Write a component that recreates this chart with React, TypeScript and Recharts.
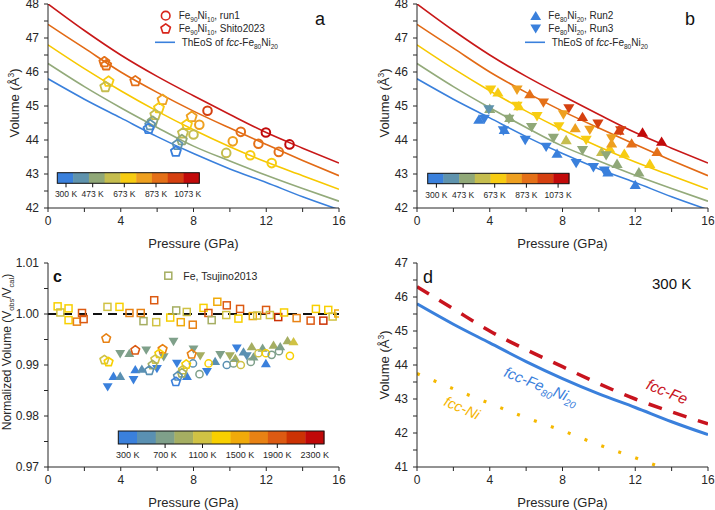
import React from 'react';
import { ComposedChart, Line, Scatter, XAxis, YAxis, ReferenceLine } from 'recharts';

const FONT = '"Liberation Sans", Arial, Helvetica, sans-serif';
const INK = '#262626';

// colour scales of the two colour bars
const palAB = ['#3a80dc', '#5f93ad', '#90a878', '#c5bd4e', '#f7cc12', '#eea020', '#e47018', '#d54010', '#c20a0a'];
const palC = ['#3a80dc', '#5a90b2', '#7fa08a', '#a5ae62', '#d0c244', '#f8d000', '#f0aa0a', '#e88214', '#dc5a12', '#cc3204', '#c00808'];
const abBarLabels = ['300 K', '473 K', '673 K', '873 K', '1073 K'];
const cBarLabels = ['300 K', '700 K', '1100 K', '1500 K', '1900 K', '2300 K'];

const pressureTicks = [0, 2, 4, 6, 8, 10, 12, 14, 16];
const volTicksAB = [42, 42.5, 43, 43.5, 44, 44.5, 45, 45.5, 46, 46.5, 47, 47.5, 48];
const volTicksD = [41, 41.5, 42, 42.5, 43, 43.5, 44, 44.5, 45, 45.5, 46, 46.5, 47];
const normTicks = [0.97, 0.975, 0.98, 0.985, 0.99, 0.995, 1.0, 1.005, 1.01];

// isotherms of fcc-Fe80Ni20 (panels a, b)
const eosP = [0, 2, 4, 6, 8, 10, 12, 14, 16];
const v300 = [45.8, 45.2, 44.65, 44.1, 43.6, 43.15, 42.75, 42.33, 41.95];
const v473 = [46.25, 45.57, 44.95, 44.37, 43.82, 43.38, 42.96, 42.57, 42.2];
const v673 = [46.8, 46.1, 45.45, 44.85, 44.3, 43.8, 43.35, 42.95, 42.55];
const v873 = [47.4, 46.7, 46.0, 45.4, 44.85, 44.35, 43.87, 43.4, 42.95];
const v1073 = [48.0, 47.22, 46.5, 45.87, 45.3, 44.75, 44.22, 43.76, 43.32];
const isoColors = ['#3a80dc', '#93aa7a', '#f7c800', '#e26a15', '#c81818'];

// panel d, 300 K
const vFe = [46.3, 45.65, 45.0, 44.45, 43.95, 43.45, 43.0, 42.62, 42.27];
const niP = [0, 2, 4, 6, 8, 10, 12, 13.4];
const vNi = [43.75, 43.3, 42.87, 42.45, 42.07, 41.65, 41.27, 41.0];

// [pressure, volume, colour index]
const run1A = [
  [8.77, 44.86, 7], [10.6, 44.24, 6], [11.98, 44.22, 8], [13.28, 43.87, 8], [11.57, 43.89, 6], [12.69, 43.65, 6],
  [8.32, 44.45, 5], [10.16, 43.96, 5], [11.12, 43.55, 4], [12.3, 43.32, 4], [9.8, 43.62, 3], [8.0, 44.16, 3],
];
const shitoA = [
  [3.1, 46.29, 6], [3.2, 46.2, 6], [4.8, 45.73, 6], [3.33, 45.72, 4], [3.15, 45.56, 3], [6.3, 45.18, 5],
  [6.1, 44.94, 4], [5.9, 44.74, 3], [5.75, 44.54, 2], [5.62, 44.44, 1], [5.53, 44.33, 0], [7.9, 44.68, 5],
  [7.64, 44.45, 4], [7.42, 44.2, 3], [7.36, 44.0, 2], [7.12, 43.86, 1], [7.03, 43.66, 0],
];
const run2B = [
  [3.4, 44.6, 0], [4.8, 44.3, 0], [7.7, 43.6, 0], [10.5, 43.05, 0], [12.0, 42.68, 0],
  [4.0, 44.92, 2], [5.1, 44.65, 2], [11.0, 43.3, 2], [12.2, 43.05, 2], [8.2, 44.0, 3], [10.15, 43.65, 3],
  [4.45, 45.4, 4], [5.6, 45.0, 4], [10.6, 43.75, 4], [11.4, 43.6, 4], [12.8, 43.3, 4],
  [8.7, 44.35, 5], [10.7, 43.9, 5], [6.2, 45.35, 6], [11.8, 43.9, 6], [13.2, 43.65, 6],
  [9.1, 44.68, 7], [11.1, 44.28, 7], [12.4, 44.22, 8], [13.45, 43.95, 8],
];
const run3B = [
  [3.7, 44.62, 0], [4.75, 44.28, 0], [5.95, 44.0, 0], [7.1, 43.8, 0], [8.75, 43.32, 0], [9.7, 43.2, 0], [10.3, 43.1, 0],
  [3.95, 44.9, 1], [5.05, 44.62, 2], [6.3, 44.38, 2], [7.5, 44.06, 2], [9.1, 43.7, 2], [10.4, 43.55, 2],
  [4.05, 45.48, 4], [5.5, 45.0, 4], [6.6, 44.7, 4], [7.8, 44.4, 4], [9.3, 44.0, 4],
  [5.5, 45.48, 5], [8.05, 44.75, 5], [9.5, 44.3, 5], [10.7, 44.05, 5],
  [6.95, 45.1, 6], [8.35, 44.93, 7], [9.95, 44.48, 7], [11.2, 44.28, 7],
];

// panel c, V_obs / V_cal
const tsujinoC = [
  [0.53, 1.0015, 5], [0.68, 1.0003, 4], [1.13, 1.0011, 5], [1.13, 0.9988, 5], [1.59, 0.9985, 7], [1.87, 1.0002, 8],
  [1.96, 0.999, 8], [3.27, 1.0014, 4], [3.93, 1.0014, 5], [4.48, 1.0002, 7], [5.1, 1.0002, 7], [5.25, 0.9986, 3],
  [5.84, 1.0027, 8], [5.95, 0.9984, 4], [6.72, 0.9993, 5], [7.05, 1.0007, 3], [7.3, 0.9984, 6], [7.63, 1.0004, 4],
  [7.96, 0.9979, 7], [8.55, 1.0012, 5], [8.82, 1.0002, 8], [9.0, 0.9988, 3], [9.31, 1.0024, 6], [9.83, 1.0017, 8],
  [9.8, 0.9998, 4], [10.47, 0.9991, 5], [10.56, 1.001, 8], [11.26, 0.9996, 6], [11.5, 0.9997, 4], [11.99, 1.0008, 8],
  [12.2, 0.9998, 4], [12.66, 0.9994, 9], [12.98, 1.0003, 5], [13.67, 0.9992, 7], [14.44, 0.9987, 8], [14.73, 1.001, 5],
  [15.14, 0.9987, 9], [15.41, 1.0008, 5], [15.65, 0.9995, 4], [15.96, 1.0001, 6],
];
const shitoC = [
  [3.2, 0.9952, 7], [3.1, 0.991, 4], [3.33, 0.9906, 5], [4.8, 0.9929, 8], [6.3, 0.9931, 7], [6.12, 0.9922, 5],
  [5.9, 0.9911, 4], [5.75, 0.99, 3], [5.57, 0.9889, 1], [7.9, 0.9921, 7], [7.6, 0.9901, 5], [7.42, 0.989, 4],
  [7.36, 0.9884, 3], [7.14, 0.9878, 1], [7.03, 0.9867, 0],
];
const run1C = [
  [7.97, 0.9903, 1], [8.33, 0.9882, 2], [8.83, 0.9903, 5], [9.83, 0.99, 1], [10.2, 0.9903, 2], [10.6, 0.99, 4],
  [11.15, 0.9906, 2], [11.57, 0.9923, 4], [11.98, 0.9923, 5], [12.3, 0.992, 2], [12.7, 0.9927, 2], [13.3, 0.9918, 5],
];
const run2C = [
  [3.6, 0.9878, 0], [3.97, 0.9878, 1], [4.8, 0.9891, 0], [5.16, 0.9892, 1], [4.47, 0.9923, 2], [7.64, 0.9878, 0],
  [9.19, 0.9907, 1], [10.3, 0.9913, 3], [11.3, 0.9916, 2], [11.98, 0.9903, 0], [11.2, 0.9936, 3], [11.8, 0.9933, 2],
  [12.4, 0.9939, 3], [12.77, 0.9936, 2], [13.17, 0.9948, 3], [13.5, 0.9946, 4], [10.75, 0.9926, 1],
];
const run3C = [
  [3.28, 0.9857, 0], [3.97, 0.9922, 2], [4.7, 0.9871, 0], [5.4, 0.9929, 2], [6.9, 0.9946, 2], [7.09, 0.9903, 0],
  [5.99, 0.9893, 0], [6.36, 0.9916, 2], [8.0, 0.9931, 2], [8.37, 0.9918, 3], [8.74, 0.9887, 0], [9.47, 0.992, 2],
  [10.0, 0.9918, 3], [10.38, 0.9933, 0], [10.93, 0.9918, 1],
];

const toRows = (vs: number[], ps: number[] = eosP) => ps.map((p, i) => ({ p, v: vs[i] }));
const toPts = (arr: number[][], pal: string[]) => arr.map(([p, v, t]) => ({ p, v, c: pal[t] }));

const fmtP = (v: number) => (v % 4 === 0 ? String(v) : '');
const fmtInt = (v: number) => (Number.isInteger(v) ? String(v) : '');
const fmtNorm = (v: number) => (Math.round(v * 1000) % 10 === 0 ? v.toFixed(2) : '');

function drawMark(kind: string, cx: number, cy: number, s: number, color: string, sw: number) {
  if (cx == null || cy == null) return <g />;
  if (kind === 'circle') return <circle cx={cx} cy={cy} r={s} fill="none" stroke={color} strokeWidth={sw} />;
  if (kind === 'pent') {
    const pts = [0, 1, 2, 3, 4]
      .map((k) => {
        const a = ((-90 + 72 * k) * Math.PI) / 180;
        return `${cx + s * Math.cos(a)},${cy + s * Math.sin(a)}`;
      })
      .join(' ');
    return <polygon points={pts} fill="none" stroke={color} strokeWidth={sw} strokeLinejoin="round" />;
  }
  if (kind === 'up')
    return <polygon points={`${cx},${cy - s} ${cx - s * 1.08},${cy + s * 0.8} ${cx + s * 1.08},${cy + s * 0.8}`} fill={color} />;
  if (kind === 'down')
    return <polygon points={`${cx},${cy + s} ${cx - s * 1.08},${cy - s * 0.8} ${cx + s * 1.08},${cy - s * 0.8}`} fill={color} />;
  return <rect x={cx - s} y={cy - s} width={2 * s} height={2 * s} fill="none" stroke={color} strokeWidth={sw} />;
}

const mk = (kind: string, s: number, sw: number) => (props: any) =>
  drawMark(kind, props.cx, props.cy, s, props.payload?.c ?? INK, sw);

// text with _{sub}, ^{sup} and *{italic} runs
function rich(s: string, small: number, subShift: number, supShift: number) {
  const out: any[] = [];
  const re = /([_^*])\{([^}]*)\}|([^_^*]+)/g;
  let cur = 0;
  let k = 0;
  let m: RegExpExecArray | null;
  while ((m = re.exec(s))) {
    if (m[1] === '_' || m[1] === '^') {
      const d = m[1] === '_' ? subShift : -supShift;
      out.push(<tspan key={k++} fontSize={small} dy={d - cur}>{m[2]}</tspan>);
      cur = d;
    } else if (m[1] === '*') {
      out.push(<tspan key={k++} fontStyle="italic" dy={-cur}>{m[2]}</tspan>);
      cur = 0;
    } else {
      out.push(<tspan key={k++} dy={-cur}>{m[3]}</tspan>);
      cur = 0;
    }
  }
  return out;
}

const tickStyle = { fontSize: 12, fill: INK, fontFamily: FONT };
const ax = { stroke: INK, strokeWidth: 1 };

// pad = extra room above the plot so the top tick label is not clipped
function Panel({ x, y, pad = 0, yDomain, yTicks, yFmt, children }: any) {
  return (
    <div style={{ position: 'absolute', left: x, top: y - pad }}>
      <ComposedChart width={346} height={251 + pad} margin={{ top: 4 + pad, right: 7, left: 0, bottom: 0 }}>
        <XAxis dataKey="p" type="number" domain={[0, 16]} ticks={pressureTicks} tickFormatter={fmtP} interval={0}
          height={43} allowDataOverflow tick={tickStyle} tickSize={4} tickMargin={4} axisLine={ax} tickLine={ax} />
        <XAxis xAxisId="t" orientation="top" type="number" domain={[0, 16]} ticks={pressureTicks} interval={0}
          height={0} tick={false} tickSize={-4} axisLine={ax} tickLine={ax} allowDataOverflow />
        <YAxis dataKey="v" type="number" domain={yDomain} ticks={yTicks} tickFormatter={yFmt} interval={0}
          width={48} allowDataOverflow tick={tickStyle} tickSize={4} tickMargin={5} axisLine={ax} tickLine={ax} />
        <YAxis yAxisId="r" orientation="right" type="number" domain={yDomain} ticks={yTicks} interval={0}
          width={0} tick={false} tickSize={-4} axisLine={ax} tickLine={ax} allowDataOverflow />
        {children}
      </ComposedChart>
    </div>
  );
}

function isoLines() {
  return [v300, v473, v673, v873, v1073].map((vs, i) => (
    <Line key={'iso' + i} data={toRows(vs)} dataKey="v" type="monotone" stroke={isoColors[i]} strokeWidth={1.6}
      dot={false} activeDot={false} isAnimationActive={false} />
  ));
}

function ColorBar({ x, y, w, h, colors, labels, ticks, fs }: any) {
  const sw = w / colors.length;
  return (
    <g>
      {colors.map((c: string, i: number) => (
        <rect key={i} x={x + i * sw} y={y} width={sw + 0.4} height={h} fill={c} />
      ))}
      <rect x={x} y={y} width={w} height={h} fill="none" stroke="#111" strokeWidth={1} />
      {ticks.map((tx: number, i: number) => (
        <g key={'t' + i}>
          <line x1={tx} x2={tx} y1={y + h} y2={y + h + 4} stroke="#111" strokeWidth={1} />
          <text x={tx} y={y + h + 14} fontSize={fs} textAnchor="middle" fill={INK}>{labels[i]}</text>
        </g>
      ))}
    </g>
  );
}

function Overlay() {
  const legRed = '#d8261c';
  const blue = '#3a80dc';
  const volLabel = rich('Volume (Å^{3})', 8.5, 0, 5);
  return (
    <svg width={715} height={510} fontFamily={FONT}
      style={{ position: 'absolute', left: 0, top: 0, pointerEvents: 'none' }}>
      {/* axis titles */}
      {[[193.5, 248], [562.5, 248], [193.5, 506.5], [562.5, 506.5]].map(([tx, ty], i) => (
        <text key={'xt' + i} x={tx} y={ty} fontSize={13} textAnchor="middle" fill={INK}>Pressure (GPa)</text>
      ))}
      <text transform="translate(19,103) rotate(-90)" fontSize={13} textAnchor="middle" fill={INK}>{volLabel}</text>
      <text transform="translate(389,103) rotate(-90)" fontSize={13} textAnchor="middle" fill={INK}>{volLabel}</text>
      <text transform="translate(389,365) rotate(-90)" fontSize={13} textAnchor="middle" fill={INK}>{volLabel}</text>
      <text transform="translate(11,352) rotate(-90)" fontSize={12} textAnchor="middle" fill={INK}>
        {rich('Normalized Volume (V_{obs}/V_{cal})', 7.5, 2.5, 0)}
      </text>

      {/* panel a legend */}
      <circle cx={165.7} cy={15.7} r={4.3} fill="none" stroke={legRed} strokeWidth={1.6} />
      {drawMark('pent', 165.7, 28.8, 5, legRed, 1.6)}
      <line x1={155} x2={175} y1={42.3} y2={42.3} stroke={blue} strokeWidth={1.6} />
      <text x={178.7} y={19.3} fontSize={10} fill={INK}>{rich('Fe_{90}Ni_{10}, run1', 6.5, 2.5, 0)}</text>
      <text x={178.7} y={32.2} fontSize={10} fill={INK}>{rich('Fe_{90}Ni_{10}, Shito2023', 6.5, 2.5, 0)}</text>
      <text x={181.7} y={46} fontSize={10} fill={INK}>{rich('ThEoS of *{fcc}-Fe_{80}Ni_{20}', 6.5, 2.5, 0)}</text>

      {/* panel b legend */}
      {drawMark('up', 535.7, 16, 5, blue, 0)}
      {drawMark('down', 535.7, 28.4, 5, blue, 0)}
      <line x1={525} x2={545} y1={42.3} y2={42.3} stroke={blue} strokeWidth={1.6} />
      <text x={548.3} y={19.3} fontSize={10} fill={INK}>{rich('Fe_{80}Ni_{20}, Run2', 6.5, 2.5, 0)}</text>
      <text x={548.3} y={32.2} fontSize={10} fill={INK}>{rich('Fe_{80}Ni_{20}, Run3', 6.5, 2.5, 0)}</text>
      <text x={551.7} y={46} fontSize={10} fill={INK}>{rich('ThEoS of *{fcc}-Fe_{80}Ni_{20}', 6.5, 2.5, 0)}</text>

      {/* panel c legend */}
      <rect x={164.8} y={272.2} width={7} height={7} fill="none" stroke={palC[3]} strokeWidth={1.5} />
      <text x={183.3} y={279.5} fontSize={10.5} fill={INK}>Fe, Tsujino2013</text>

      {/* colour bars */}
      <ColorBar x={57.3} y={172.7} w={142} h={10.6} colors={palAB} labels={abBarLabels}
        ticks={[66, 92.7, 124.3, 156, 187.7]} fs={8.5} />
      <ColorBar x={427.7} y={173.3} w={141.3} h={10.4} colors={palAB} labels={abBarLabels}
        ticks={[436.4, 463.1, 494.7, 526.4, 558.1]} fs={8.5} />
      <ColorBar x={118.3} y={431} w={205.7} h={13} colors={palC} labels={cBarLabels}
        ticks={[127.7, 165.1, 202.5, 239.9, 277.3, 314.7]} fs={9} />

      {/* panel letters */}
      <text x={320} y={25} fontSize={18} textAnchor="middle" fill="#111">a</text>
      <text x={690} y={25} fontSize={18} textAnchor="middle" fill="#111">b</text>
      <text x={53} y={282} fontSize={16} fontWeight="bold" fill="#111">c</text>
      <text x={423} y={283} fontSize={18} fill="#111">d</text>
      <text x={652} y={289} fontSize={15} fill="#111">300 K</text>

      {/* panel d annotations, following the curves */}
      <text x={0} y={5} transform="translate(541,386) rotate(22)" fontSize={15} fontStyle="italic"
        textAnchor="middle" fill={blue}>{rich('fcc-Fe_{80}Ni_{20}', 10, 4, 0)}</text>
      <text x={0} y={5} transform="translate(667,392) rotate(22)" fontSize={15.5} fontStyle="italic"
        textAnchor="middle" fill="#c8141e">fcc-Fe</text>
      <text x={0} y={5} transform="translate(462,408) rotate(24)" fontSize={14.5} fontStyle="italic"
        textAnchor="middle" fill="#f5b400">fcc-Ni</text>
    </svg>
  );
}

export default function App() {
  return (
    <div style={{ position: 'absolute', left: 0, top: 0, width: 715, height: 510, background: '#fff', overflow: 'hidden', fontFamily: FONT }}>
      <Panel x={0} y={0} yDomain={[42, 48]} yTicks={volTicksAB} yFmt={fmtInt}>
        {isoLines()}
        <Scatter data={toPts(shitoA, palAB)} shape={mk('pent', 5.3, 1.8)} isAnimationActive={false} />
        <Scatter data={toPts(run1A, palAB)} shape={mk('circle', 4.3, 2)} isAnimationActive={false} />
      </Panel>

      <Panel x={369} y={0} yDomain={[42, 48]} yTicks={volTicksAB} yFmt={fmtInt}>
        {isoLines()}
        <Scatter data={toPts(run2B, palAB)} shape={mk('up', 5.2, 0)} isAnimationActive={false} />
        <Scatter data={toPts(run3B, palAB)} shape={mk('down', 5.2, 0)} isAnimationActive={false} />
      </Panel>

      <Panel x={0} y={259} pad={10} yDomain={[0.97, 1.01]} yTicks={normTicks} yFmt={fmtNorm}>
        <ReferenceLine y={1} stroke="#111" strokeWidth={1.8} strokeDasharray="9 6" />
        <Scatter data={toPts(tsujinoC, palC)} shape={mk('square', 3.5, 1.5)} isAnimationActive={false} />
        <Scatter data={toPts(run2C, palC)} shape={mk('up', 4.6, 0)} isAnimationActive={false} />
        <Scatter data={toPts(run3C, palC)} shape={mk('down', 4.6, 0)} isAnimationActive={false} />
        <Scatter data={toPts(run1C, palC)} shape={mk('circle', 3.6, 1.5)} isAnimationActive={false} />
        <Scatter data={toPts(shitoC, palC)} shape={mk('pent', 4.6, 1.6)} isAnimationActive={false} />
      </Panel>

      <Panel x={369} y={259} pad={10} yDomain={[41, 47]} yTicks={volTicksD} yFmt={fmtInt}>
        <Line data={toRows(vNi, niP)} dataKey="v" type="monotone" stroke="#f5b800" strokeWidth={3.2}
          strokeDasharray="3 15" dot={false} activeDot={false} isAnimationActive={false} />
        <Line data={toRows(vFe)} dataKey="v" type="monotone" stroke="#c8141e" strokeWidth={3.5}
          strokeDasharray="14 12" dot={false} activeDot={false} isAnimationActive={false} />
        <Line data={toRows(v300)} dataKey="v" type="monotone" stroke="#3a80dc" strokeWidth={3}
          dot={false} activeDot={false} isAnimationActive={false} />
      </Panel>

      <Overlay />
    </div>
  );
}
